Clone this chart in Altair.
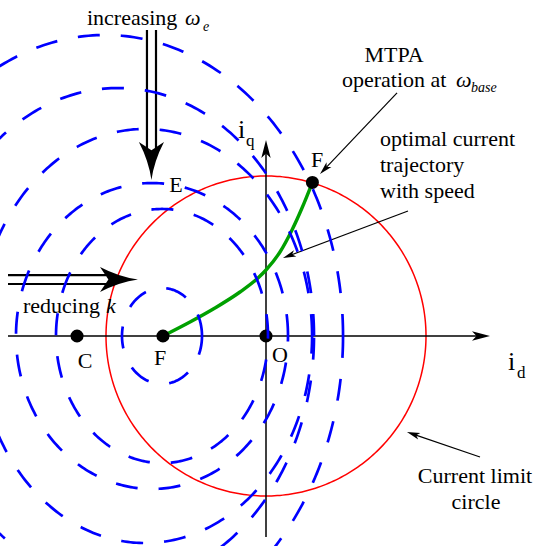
import math
import altair as alt
import numpy as np
import pandas as pd

# Diagram units: current-limit circle has radius 1 and is centred on the origin O.
X_DOMAIN = [-1.6625, 1.66875]
Y_DOMAIN = [-1.3125, 2.1]

# Current limit circle
limit_center = (0.0, 0.0)
limit_radius = 1.0

# Voltage-limit ellipses (dashed): centre on the d-axis and semi-axes along d and q
ellipse_center_d = [-0.65, -0.65, -0.7125, -0.756, -0.925, -1.006]
ellipse_semi_d = [0.25, 0.6625, 0.85, 1.044, 1.225, 1.4875]
ellipse_semi_q = [0.30, 0.794, 0.956, 1.294, 1.55, 1.881]

# Optimal current trajectory, from F on the d-axis up to F on the limit circle
traj_id = [-0.644, -0.475, -0.319, -0.1625, -0.05, 0.0, 0.0875, 0.1625, 0.225, 0.29]
traj_iq = [0.0, 0.0875, 0.175, 0.275, 0.3625, 0.4125, 0.525, 0.6625, 0.8, 0.96]

# Marked points C, F, O and F (MTPA at base speed)
point_id = [-1.181, -0.644, 0.0, 0.29]
point_iq = [0.0, 0.0, 0.0, 0.96]

# Coordinate axes: start (d, q) -> arrow tip (d, q)
axis_start = [(-1.6125, 0.0), (0.0, -1.256)]
axis_tip = [(1.4, 0.0), (0.0, 1.225)]

# Hollow block arrows: two parallel shaft lines each, plus a head tip
block_shafts = [
    (-0.744, 1.9125, -0.744, 1.175), (-0.6875, 1.9125, -0.6875, 1.175),
    (-1.6125, 0.381, -1.0, 0.381), (-1.6125, 0.325, -1.0, 0.325),
]
block_tips = [(-0.716, 0.975, 180.0), (-0.8, 0.353, 90.0)]

# Thin annotation arrows: start -> tip
note_start = [(0.819, 1.519), (0.8875, 0.781), (1.3375, -0.756)]
note_tip = [(0.3375, 1.0125), (0.106, 0.4875), (0.881, -0.6)]

# Text: (text, d, q)
plain_left = [
    ("increasing", -1.119, 1.944),
    ("operation at", 0.475, 1.556),
    ("optimal current", 0.7125, 1.1875),
    ("trajectory", 0.7125, 1.025),
    ("with speed", 0.7125, 0.8625),
    ("reducing", -1.519, 0.144),
]
plain_center = [
    ("MTPA", 0.8, 1.7125),
    ("Current limit", 1.306, -0.919),
    ("circle", 1.3125, -1.081),
    ("C", -1.131, -0.2),
    ("F", -0.6625, -0.181),
    ("O", 0.0875, -0.1625),
    ("F", 0.319, 1.056),
    ("E", -0.5625, 0.9),
]
italic_main = [("ω", -0.506, 1.944), ("ω", 1.1875, 1.556), ("k", -1.0, 0.144)]
italic_sub = [("e", -0.394, 1.906), ("base", 1.281, 1.525)]
axis_letters = [("i", -0.175, 1.2375), ("i", 1.5125, -0.2125)]
axis_subs = [("q", -0.125, 1.1875), ("d", 1.569, -0.2625)]

FONT = "Liberation Serif"


def xq(field="u"):
    return alt.X(field, type="quantitative",
                 scale=alt.Scale(domain=X_DOMAIN, nice=False, zero=False), axis=None)


def yq(field="v"):
    return alt.Y(field, type="quantitative",
                 scale=alt.Scale(domain=Y_DOMAIN, nice=False, zero=False), axis=None)


def heading(du, dv):
    return (math.degrees(math.atan2(du, dv)) + 360.0) % 360.0


# --- curves ---
t = np.linspace(0, 2 * np.pi, 361)
circle_df = pd.DataFrame({
    "k": np.arange(len(t)),
    "u": limit_center[0] + limit_radius * np.cos(t),
    "v": limit_center[1] + limit_radius * np.sin(t),
})

rows = []
for i, (c, a, b) in enumerate(zip(ellipse_center_d, ellipse_semi_d, ellipse_semi_q)):
    for k, tt in enumerate(t):
        rows.append({"id": i, "k": k, "u": c + a * math.cos(tt), "v": b * math.sin(tt)})
ellipse_df = pd.DataFrame(rows)

traj_df = pd.DataFrame({"k": range(len(traj_id)), "u": traj_id, "v": traj_iq})
points_df = pd.DataFrame({"u": point_id, "v": point_iq})

# --- straight segments ---
seg_rows = []
for (u1, v1), (u2, v2) in zip(axis_start, axis_tip):
    # stop the shaft just behind the arrow tip
    L = math.hypot(u2 - u1, v2 - v1)
    back = 0.06
    seg_rows.append({"u": u1, "v": v1, "u2": u2 - (u2 - u1) / L * back,
                     "v2": v2 - (v2 - v1) / L * back, "w": 1.5})
for (u1, v1, u2, v2) in block_shafts:
    seg_rows.append({"u": u1, "v": v1, "u2": u2, "v2": v2, "w": 2.2})
for (u1, v1), (u2, v2) in zip(note_start, note_tip):
    L = math.hypot(u2 - u1, v2 - v1)
    back = 0.04
    seg_rows.append({"u": u1, "v": v1, "u2": u2 - (u2 - u1) / L * back,
                     "v2": v2 - (v2 - v1) / L * back, "w": 1.2})
seg_df = pd.DataFrame(seg_rows)

# --- arrow heads (tip at the data point, pointing "up" before rotation) ---
STEALTH = "M0,0 Q0.07,0.5 0.33,1 L0,0.78 L-0.33,1 Q-0.07,0.5 0,0 Z"
SLIM = "M0,0 L0.26,1 L0,0.75 L-0.26,1 Z"

head_rows = []
for (u1, v1), (u2, v2) in zip(axis_start, axis_tip):
    head_rows.append({"u": u2, "v": v2, "angle": heading(u2 - u1, v2 - v1),
                      "size": (2 * 18) ** 2})
for (u1, v1), (u2, v2) in zip(note_start, note_tip):
    head_rows.append({"u": u2, "v": v2, "angle": heading(u2 - u1, v2 - v1),
                      "size": (2 * 13) ** 2})
heads_df = pd.DataFrame(head_rows)
block_df = pd.DataFrame([{"u": u, "v": v, "angle": a, "size": (2 * 38) ** 2}
                         for (u, v, a) in block_tips])

limit_layer = alt.Chart(circle_df).mark_line(color="#ff0000", strokeWidth=1.5).encode(
    x=xq(), y=yq(), order="k:Q")

seg_layer = alt.Chart(seg_df).mark_rule(color="black", strokeCap="butt").encode(
    x=xq(), y=yq(), x2="u2:Q", y2="v2:Q", strokeWidth=alt.StrokeWidth("w:Q", scale=None))

traj_layer = alt.Chart(traj_df).mark_line(
    color="#00a000", strokeWidth=3.4, interpolate="monotone").encode(
    x=xq(), y=yq(), order="k:Q")

points_layer = alt.Chart(points_df).mark_circle(size=170, color="black", opacity=1).encode(
    x=xq(), y=yq())

heads_layer = alt.Chart(heads_df).mark_point(
    shape=SLIM, filled=True, color="black", opacity=1, strokeWidth=0).encode(
    x=xq(), y=yq(), angle=alt.Angle("angle:Q", scale=None),
    size=alt.Size("size:Q", scale=None))

block_layer = alt.Chart(block_df).mark_point(
    shape=STEALTH, filled=True, color="black", opacity=1, strokeWidth=0).encode(
    x=xq(), y=yq(), angle=alt.Angle("angle:Q", scale=None),
    size=alt.Size("size:Q", scale=None))

ellipse_layer = alt.Chart(ellipse_df).mark_line(
    color="#0000ff", strokeWidth=2.7, strokeDash=[22, 21], strokeCap="butt").encode(
    x=xq(), y=yq(), detail="id:N", order="k:Q")


def text_layer(items, size, align="left", style="normal"):
    df = pd.DataFrame(items, columns=["label", "u", "v"])
    return alt.Chart(df).mark_text(
        font=FONT, fontSize=size, align=align, baseline="alphabetic",
        fontStyle=style, color="black").encode(x=xq(), y=yq(), text="label:N")


texts = [
    text_layer(plain_left, 22, "left"),
    text_layer(plain_center, 22, "center"),
    text_layer(italic_main, 22, "left", "italic"),
    text_layer(italic_sub, 14, "left", "italic"),
    text_layer(axis_letters, 26, "left"),
    text_layer(axis_subs, 17, "left"),
]

chart = alt.layer(
    limit_layer, seg_layer, traj_layer, points_layer, heads_layer, block_layer,
    ellipse_layer, *texts
).properties(width=533, height=546, padding=0, autosize="none").configure_view(stroke=None)

chart.save("out.html", embed_options={"renderer": "svg", "actions": False})
